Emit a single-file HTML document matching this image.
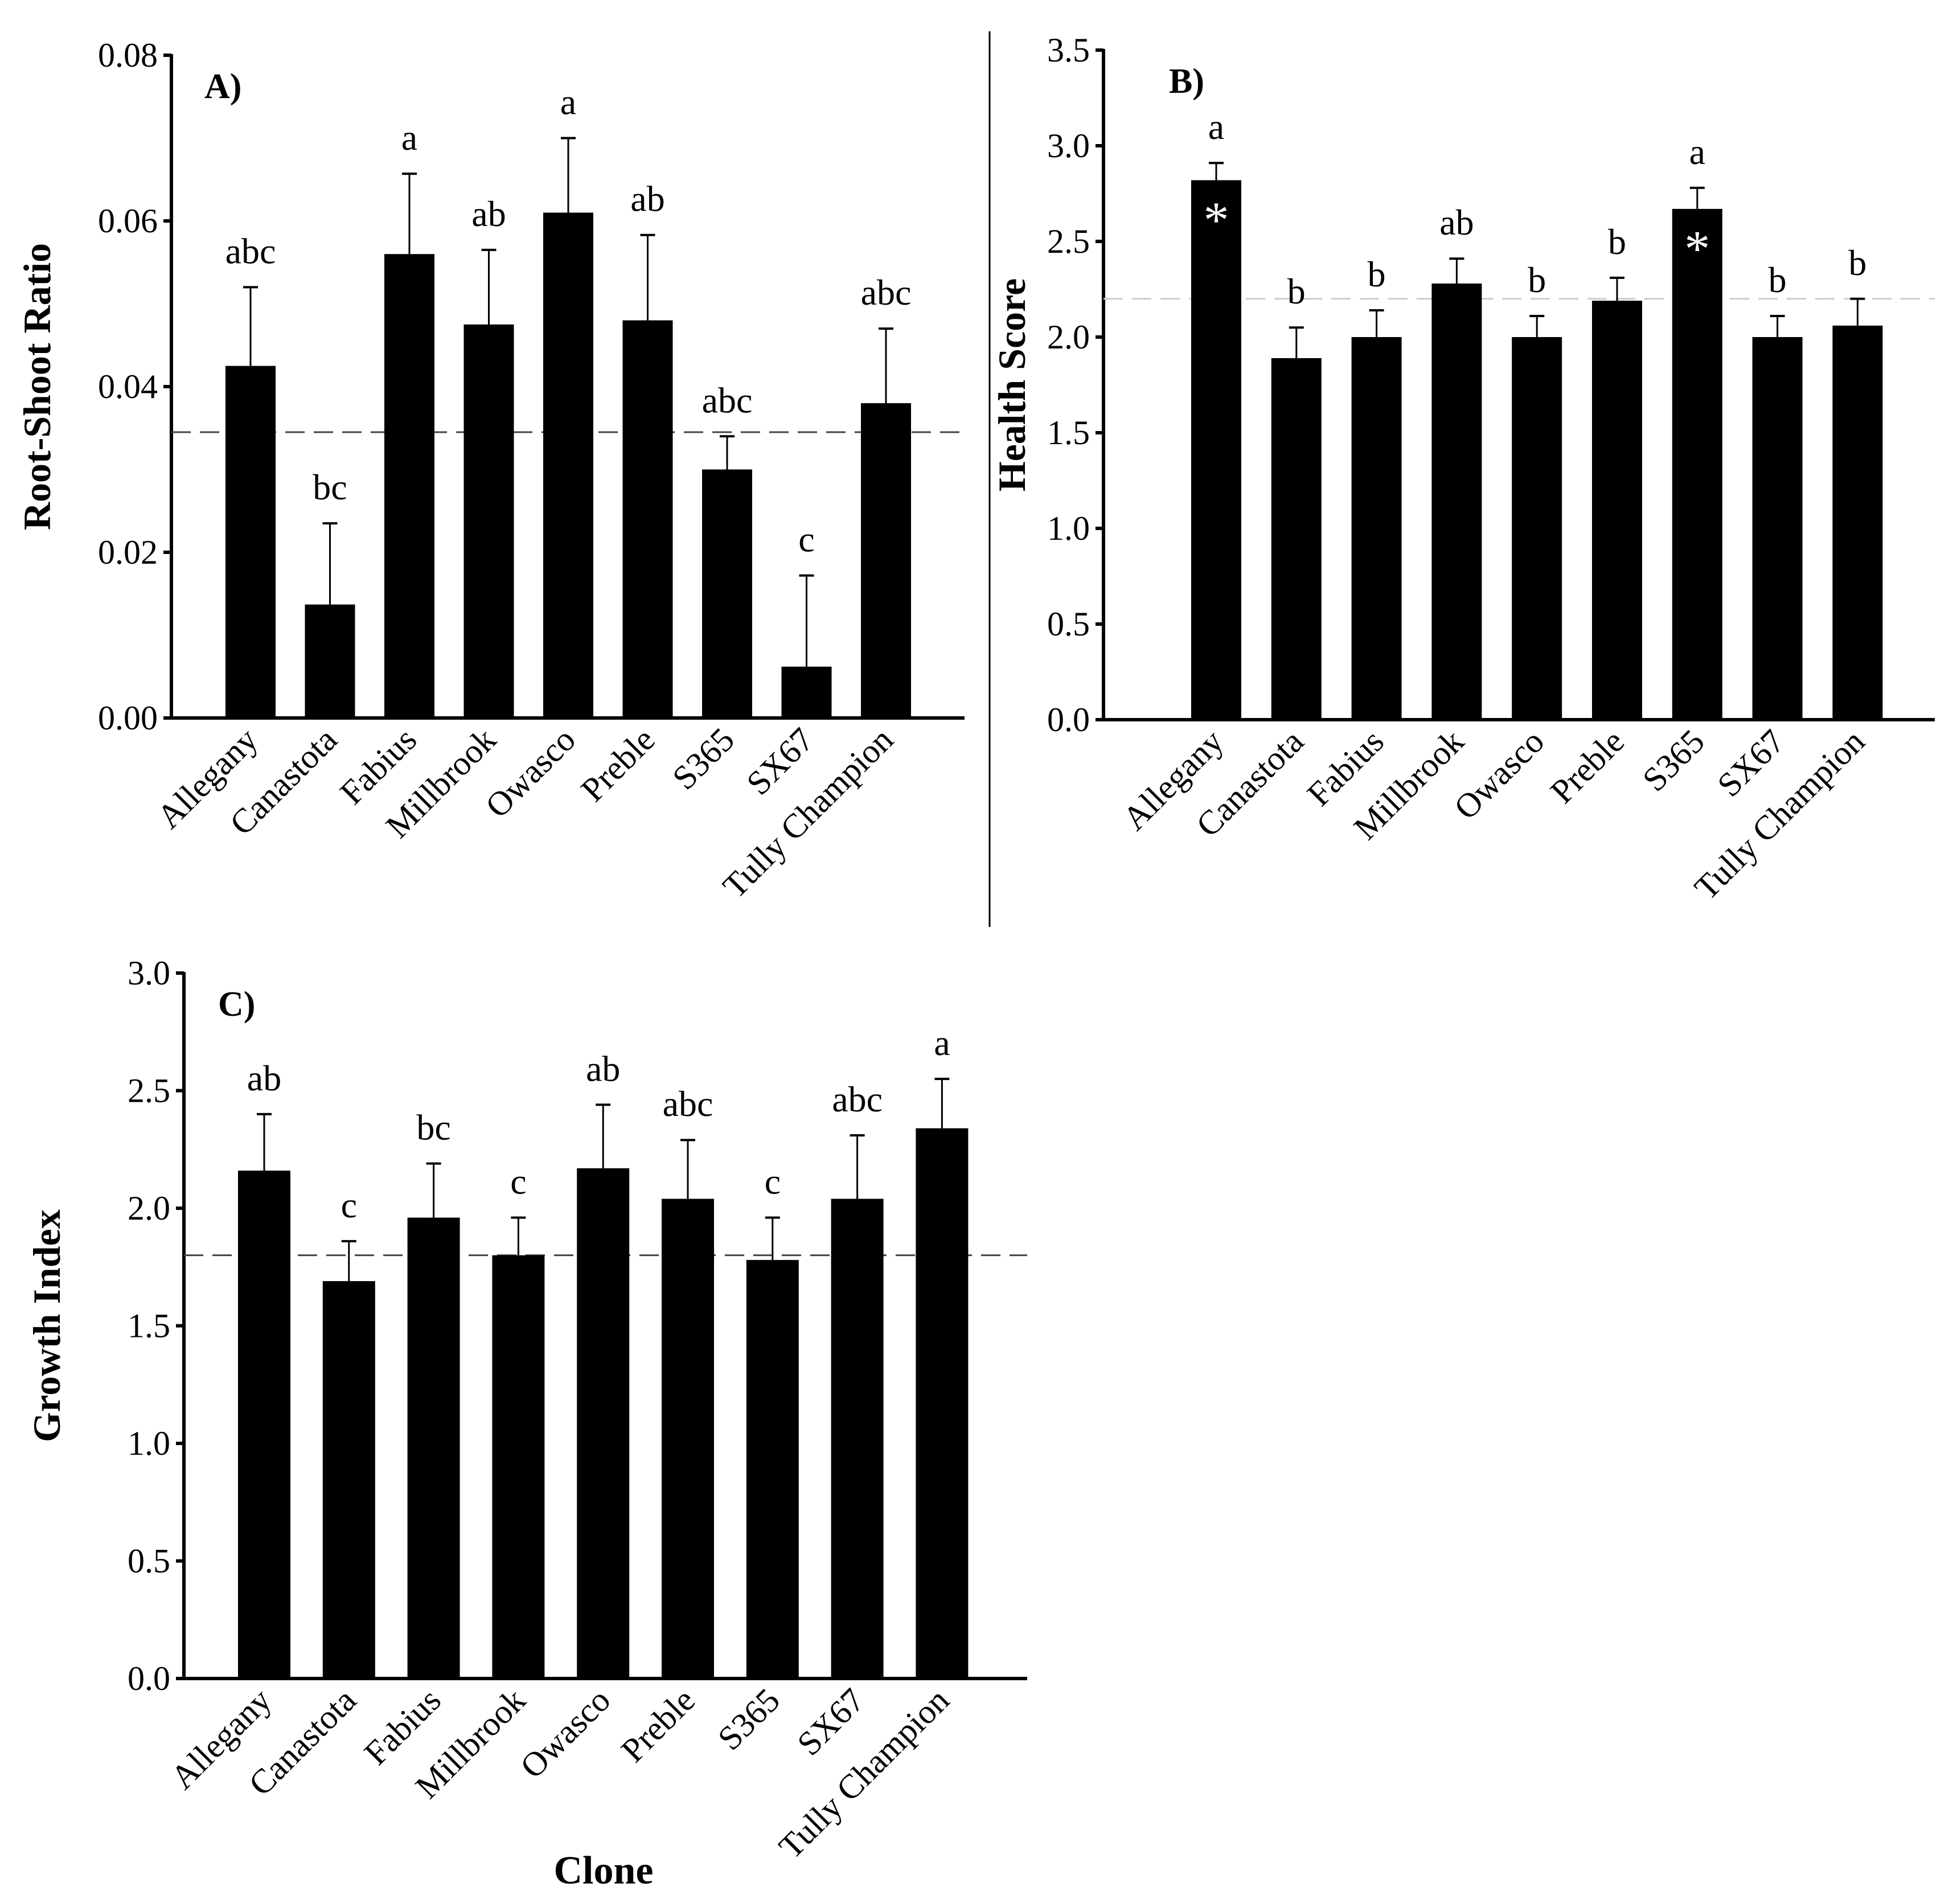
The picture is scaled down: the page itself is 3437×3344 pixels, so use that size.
<!DOCTYPE html>
<html><head><meta charset="utf-8"><style>
html,body{margin:0;padding:0;background:#fff;}
svg{display:block;font-family:"Liberation Serif",serif;}
</style></head><body>
<svg id="fig" width="3437" height="3344" viewBox="0 0 3437 3344" xmlns="http://www.w3.org/2000/svg">
<line x1="1738" y1="55" x2="1738" y2="1628" stroke="#000" stroke-width="3"/>
<g id="pA"></g>
<g id="pB"></g>
<g id="pC"></g>
<text x="1060" y="3308" font-size="70" font-weight="bold" text-anchor="middle">Clone</text>
</svg>
<script>
const categories = ["Allegany","Canastota","Fabius","Millbrook","Owasco","Preble","S365","SX67","Tully Champion"];
const aValues = [0.0425,0.0137,0.056,0.0475,0.061,0.048,0.030,0.0062,0.038];
const aErrTop = [0.052,0.0235,0.0657,0.0565,0.070,0.0583,0.034,0.0172,0.047];
const aLetters = ["abc","bc","a","ab","a","ab","abc","c","abc"];
const aTicks = ["0.00","0.02","0.04","0.06","0.08"];
const aRef = 0.0345;
const bValues = [2.82,1.89,2.0,2.28,2.0,2.19,2.67,2.0,2.06];
const bErrTop = [2.91,2.05,2.14,2.41,2.11,2.31,2.78,2.11,2.20];
const bLetters = ["a","b","b","ab","b","b","a","b","b"];
const bStars = [true,false,false,false,false,false,true,false,false];
const bTicks = ["0.0","0.5","1.0","1.5","2.0","2.5","3.0","3.5"];
const bRef = 2.2;
const cValues = [2.16,1.69,1.96,1.80,2.17,2.04,1.78,2.04,2.34];
const cErrTop = [2.40,1.86,2.19,1.96,2.44,2.29,1.96,2.31,2.55];
const cLetters = ["ab","c","bc","c","ab","abc","c","abc","a"];
const cTicks = ["0.0","0.5","1.0","1.5","2.0","2.5","3.0"];
const cRef = 1.8;

const NS="http://www.w3.org/2000/svg";
function mk(parent,tag,attrs,text){const e=document.createElementNS(NS,tag);for(const k in attrs)e.setAttribute(k,attrs[k]);if(text!==undefined)e.textContent=text;parent.appendChild(e);return e;}

function panel(g,o){
  const maxV=parseFloat(o.ticks[o.ticks.length-1]);
  const y=v=>o.y0-(v/maxV)*(o.y0-o.y1);
  const x=i=>o.x0c+i*o.step;
  let e=mk(g,"line",{x1:o.ax,y1:o.y1-2,x2:o.ax,y2:o.y0+3,stroke:"#000","stroke-width":6});
  
  
  e=mk(g,"line",{x1:o.ax-3,y1:o.y0,x2:o.axEnd,y2:o.y0,stroke:"#000","stroke-width":6});
  
  
  o.ticks.forEach(t=>{
    const ty=y(parseFloat(t));
    e=mk(g,"line",{x1:o.ax-14,y1:ty,x2:o.ax,y2:ty,stroke:"#000","stroke-width":6});
    
    
    e=mk(g,"text",{x:o.ax-24,y:ty+20,"font-size":60,"text-anchor":"end"},t);
    
    
  });
  e=mk(g,"text",{x:o.titleX,y:(o.y0+o.y1)/2,"font-size":68,"font-weight":"bold","text-anchor":"middle",transform:`rotate(-90 ${o.titleX} ${(o.y0+o.y1)/2})`},o.title);
  
  
  e=mk(g,"text",{x:o.ax+o.tagDx,y:o.y1+75,"font-size":62,"font-weight":"bold"},o.tag);
  
  
  e=mk(g,"line",{x1:o.ax,y1:y(o.ref),x2:o.axEnd,y2:y(o.ref),stroke:o.refColor,"stroke-width":3,"stroke-dasharray":"34 16"});
  
  
  categories.forEach((c,i)=>{
    const cx=x(i),vy=y(o.values[i]),ey=y(o.err[i]);
    e=mk(g,"line",{x1:cx,y1:vy,x2:cx,y2:ey,stroke:"#000","stroke-width":3});
    
    
    e=mk(g,"line",{x1:cx-13,y1:ey,x2:cx+13,y2:ey,stroke:"#000","stroke-width":4});
    
    
    e=mk(g,"rect",{x:cx-o.bw/2,y:vy,width:o.bw,height:o.y0-vy,fill:"#000"});
    
    
    e=mk(g,"text",{x:cx,y:ey-42,"font-size":64,"text-anchor":"middle"},o.letters[i]);
    
    
    if(o.stars&&o.stars[i]){
      e=mk(g,"text",{x:cx,y:vy+100,"font-size":90,"text-anchor":"middle",fill:"#fff"},"*");
      
      
    }
    const lx=cx+16,ly=o.y0+42;
    e=mk(g,"text",{x:lx,y:ly,"font-size":60,"text-anchor":"end",transform:`rotate(-45 ${lx} ${ly})`},c);
    
    
  });
}
panel(document.getElementById('pA'),{ax:301,axEnd:1694,y0:1261,y1:97,x0c:440,step:139.5,bw:88,ticks:aTicks,values:aValues,err:aErrTop,letters:aLetters,ref:aRef,refColor:"#444",title:"Root-Shoot Ratio",titleX:88,tag:"A)",tagDx:58});
panel(document.getElementById('pB'),{ax:1938,axEnd:3398,y0:1264,y1:88,x0c:2136,step:140.8,bw:88,ticks:bTicks,values:bValues,err:bErrTop,letters:bLetters,stars:bStars,ref:bRef,refColor:"#ccc",title:"Health Score",titleX:1800,tag:"B)",tagDx:115});
panel(document.getElementById('pC'),{ax:323,axEnd:1804,y0:2948,y1:1709,x0c:464,step:148.8,bw:92,ticks:cTicks,values:cValues,err:cErrTop,letters:cLetters,ref:cRef,refColor:"#444",title:"Growth Index",titleX:105,tag:"C)",tagDx:60});
</script>
</body></html>
